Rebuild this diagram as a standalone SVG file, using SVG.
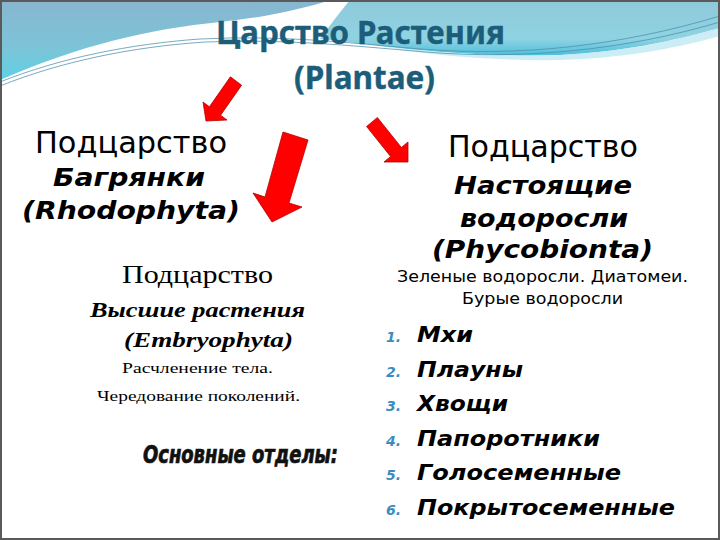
<svg xmlns="http://www.w3.org/2000/svg" width="720" height="540" viewBox="0 0 720 540">
  <defs>
    <linearGradient id="gLeft" x1="0" y1="0" x2="0" y2="1">
      <stop offset="0" stop-color="#88b6cf"/>
      <stop offset="0.6" stop-color="#7cc4d8"/>
      <stop offset="1" stop-color="#5fd0e4"/>
    </linearGradient>
    <linearGradient id="gRight" x1="0" y1="0" x2="0" y2="1">
      <stop offset="0" stop-color="#8fc9da"/>
      <stop offset="0.7" stop-color="#8fd3e2"/>
      <stop offset="1" stop-color="#4fbfdc"/>
    </linearGradient>
    <style>
      .title { font-family: "Noto Sans", "Open Sans", sans-serif; font-weight: bold; fill: #1c5d7a; stroke: #1c5d7a; stroke-width: 0.4; }
      .sans { font-family: "DejaVu Sans", Verdana, sans-serif; fill: #000; }
      .sbi { font-family: "DejaVu Sans", Verdana, sans-serif; font-weight: bold; font-style: italic; fill: #000; }
      .serif { font-family: "Liberation Serif", "DejaVu Serif", serif; fill: #000; }
      .serifbi { font-family: "Liberation Serif", "DejaVu Serif", serif; font-weight: bold; font-style: italic; fill: #000; }
      .impact { font-family: "DejaVu Sans", sans-serif; font-stretch: condensed; font-weight: bold; font-style: italic; fill: #111; stroke: #111; stroke-width: 0.7; }
      .num { font-family: "DejaVu Sans", Verdana, sans-serif; font-style: italic; font-weight: bold; fill: #3a8cbf; font-size: 14px; }
      .arrow { fill: #ff0000; stroke: #b80000; stroke-width: 0.8; stroke-linejoin: miter; }
      .wave { fill: none; stroke: #4b8fa8; stroke-width: 1; opacity: 0.75; }
    </style>
  </defs>

  <!-- background -->
  <rect x="0" y="0" width="720" height="540" fill="#ffffff"/>
  <path d="M0,0 H330 C300,10 260,18 220,22 C150,29 80,45 0,80 Z" fill="url(#gLeft)"/>
  <path d="M350,0 H720 V28 C670,42 620,52 560,55 C500,57 430,52 380,46 C360,43 340,41 320,39 C330,25 340,12 350,0 Z" fill="url(#gRight)"/>
  <path d="M380,46 C430,52 500,57 560,55 C620,52 670,42 720,28 V36 C670,50 620,58 560,60 C500,61 430,56 380,46 Z" fill="#bfe9f2" opacity="0.8"/>
  <path class="wave" d="M0,82 C60,58 130,44 200,39 C280,35 340,42 420,49 C520,57 620,46 720,16"/>
  <path class="wave" d="M0,86 C60,62 130,47 205,42 C285,39 345,45 425,52 C525,60 625,50 720,22"/>
  <rect x="1" y="1" width="718" height="538" fill="none" stroke="#5a5a5a" stroke-width="2"/>

  <!-- title -->
  <g id="title">
    <text class="title" x="216" y="44" font-size="32" textLength="289" lengthAdjust="spacingAndGlyphs">Царство Растения</text>
    <text class="title" x="294" y="89" font-size="32" textLength="141" lengthAdjust="spacingAndGlyphs">(Plantae)</text>
  </g>

  <!-- connectors (arrows) -->
  <g id="connectors">
    <polygon class="arrow" points="230.4,76.8 241.6,85.2 220.6,115.2 227,120 206,121 203,102 209.4,106.8"/>
    <polygon class="arrow" points="283,132 308,140 289,203 302,207 272,222 253,193 265,197"/>
    <polygon class="arrow" points="366.6,126.5 377.4,117.5 401.4,147.5 408,142 408,162 384,162 390.6,156.5"/>
  </g>

  <!-- left node: Rhodophyta -->
  <g id="node-rhodophyta">
    <text class="sans" x="35" y="153" font-size="30" textLength="192" lengthAdjust="spacingAndGlyphs">Подцарство</text>
    <text class="sbi" x="53" y="186" font-size="24" textLength="152" lengthAdjust="spacingAndGlyphs">Багрянки</text>
    <text class="sbi" x="22" y="219" font-size="24" textLength="218" lengthAdjust="spacingAndGlyphs">(Rhodophyta)</text>
  </g>

  <!-- right node: Phycobionta -->
  <g id="node-phycobionta">
    <text class="sans" x="448" y="157" font-size="30" textLength="190" lengthAdjust="spacingAndGlyphs">Подцарство</text>
    <text class="sbi" x="454" y="194" font-size="25" textLength="178" lengthAdjust="spacingAndGlyphs">Настоящие</text>
    <text class="sbi" x="460" y="227" font-size="25" textLength="168" lengthAdjust="spacingAndGlyphs">водоросли</text>
    <text class="sbi" x="432" y="258" font-size="25" textLength="221" lengthAdjust="spacingAndGlyphs">(Phycobionta)</text>
    <text class="sans" x="397" y="282" font-size="16" textLength="291" lengthAdjust="spacingAndGlyphs">Зеленые водоросли. Диатомеи.</text>
    <text class="sans" x="462" y="304" font-size="16" textLength="161" lengthAdjust="spacingAndGlyphs">Бурые водоросли</text>
  </g>

  <!-- lower left node: Embryophyta -->
  <g id="node-embryophyta">
    <text class="serif" x="122" y="283" font-size="26" textLength="151" lengthAdjust="spacingAndGlyphs">Подцарство</text>
    <text class="serifbi" x="90" y="317" font-size="22" textLength="215" lengthAdjust="spacingAndGlyphs">Высшие растения</text>
    <text class="serifbi" x="124" y="347" font-size="22" textLength="169" lengthAdjust="spacingAndGlyphs">(Embryophyta)</text>
    <text class="serif" x="122" y="373" font-size="15" textLength="151" lengthAdjust="spacingAndGlyphs">Расчленение тела.</text>
    <text class="serif" x="97" y="401" font-size="15" textLength="203" lengthAdjust="spacingAndGlyphs">Чередование поколений.</text>
    <text class="impact" x="143" y="463" font-size="24" textLength="195" lengthAdjust="spacingAndGlyphs">Основные отделы:</text>
  </g>

  <!-- divisions list -->
  <g id="node-divisions">
    <text class="num" x="386" y="342">1.</text>
    <text class="sbi" x="417" y="342" font-size="22" textLength="56" lengthAdjust="spacingAndGlyphs">Мхи</text>
    <text class="num" x="386" y="377">2.</text>
    <text class="sbi" x="417" y="377" font-size="22" textLength="106" lengthAdjust="spacingAndGlyphs">Плауны</text>
    <text class="num" x="386" y="411">3.</text>
    <text class="sbi" x="417" y="411" font-size="22" textLength="91" lengthAdjust="spacingAndGlyphs">Хвощи</text>
    <text class="num" x="386" y="446">4.</text>
    <text class="sbi" x="417" y="446" font-size="22" textLength="183" lengthAdjust="spacingAndGlyphs">Папоротники</text>
    <text class="num" x="386" y="480">5.</text>
    <text class="sbi" x="417" y="480" font-size="22" textLength="204" lengthAdjust="spacingAndGlyphs">Голосеменные</text>
    <text class="num" x="386" y="515">6.</text>
    <text class="sbi" x="417" y="515" font-size="22" textLength="258" lengthAdjust="spacingAndGlyphs">Покрытосеменные</text>
  </g>
</svg>
